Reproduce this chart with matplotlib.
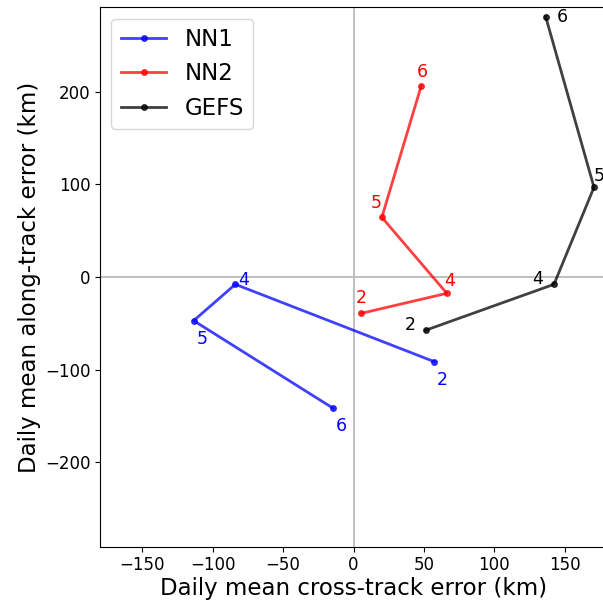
import matplotlib
matplotlib.use("Agg")
import matplotlib.pyplot as plt

# 每日平均误差 (km)，预报日 2,4,5,6
days = ["2", "4", "5", "6"]
nn1_cross = [57.4, -83.9, -113.5, -14.4]
nn1_along = [-91.4, -7.9, -47.1, -141.7]
nn2_cross = [5.5, 66.2, 20.1, 48.0]
nn2_along = [-39.2, -17.6, 64.4, 206.0]
gefs_cross = [51.1, 142.3, 170.7, 136.4]
gefs_along = [-57.5, -7.9, 96.8, 280.8]

# 标签偏移 (points)
nn1_off = [(6, -13), (6, 3), (6, -13), (6, -13)]
nn2_off = [(0, 11), (2, 9), (-4, 10), (1, 10)]
gefs_off = [(-11, 4), (-12, 4), (4, 8), (12, 0)]

fig = plt.figure(figsize=(6.03, 6.07), dpi=100)
ax = fig.add_axes([0.1658, 0.0993, 0.841, 0.8887])

ax.axhline(0, color="#bfbfbf", lw=1.4, zorder=0)
ax.axvline(0, color="#bfbfbf", lw=1.4, zorder=0)

series = [
    ("NN1", nn1_cross, nn1_along, "blue", nn1_off),
    ("NN2", nn2_cross, nn2_along, "red", nn2_off),
    ("GEFS", gefs_cross, gefs_along, "black", gefs_off),
]
for name, xs, ys, c, offs in series:
    ax.plot(xs, ys, "-o", color=c, alpha=0.75, lw=2, ms=4, label=name)
    for d, x, y, off in zip(days, xs, ys, offs):
        ax.annotate(d, (x, y), xytext=off, textcoords="offset points",
                    ha="center", va="center", color=c, fontsize=12.5)

ax.set_xlim(-180, 180)
ax.set_ylim(-291, 291)
ax.set_xticks([-150, -100, -50, 0, 50, 100, 150])
ax.set_yticks([-200, -100, 0, 100, 200])
ax.tick_params(labelsize=12)
ax.set_xlabel("Daily mean cross-track error (km)", fontsize=16.5, labelpad=2)
ax.set_ylabel("Daily mean along-track error (km)", fontsize=16.5, labelpad=3)
ax.legend(loc="upper left", fontsize=16.5)

fig.savefig("out.png", dpi=100)
